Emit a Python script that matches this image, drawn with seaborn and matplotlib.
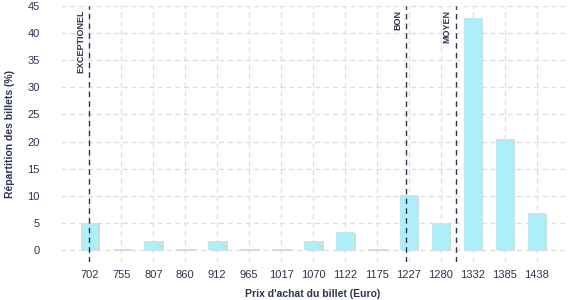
import matplotlib
matplotlib.use("Agg")
import matplotlib.pyplot as plt
import matplotlib.patheffects as pe
import numpy as np
import pandas as pd
import seaborn as sns

prices = [702, 755, 807, 860, 912, 965, 1017, 1070, 1122, 1175, 1227, 1280, 1332, 1385, 1438]
shares = [5.0, 0.2, 1.7, 0.2, 1.7, 0.2, 0.2, 1.7, 3.3, 0.2, 10.1, 5.0, 42.8, 20.5, 6.8]
threshold_labels = ["EXCEPTIONEL", "BON", "MOYEN"]
threshold_prices = [702, 1222, 1304]
y_ticks = [0, 5, 10, 15, 20, 25, 30, 35, 40, 45]

sns.set_theme(style="white")
plt.rcParams["font.family"] = ["Liberation Sans", "DejaVu Sans"]
plt.rcParams["xtick.major.pad"] = 6
plt.rcParams["ytick.major.pad"] = 15
plt.rcParams["xtick.major.size"] = 0
plt.rcParams["ytick.major.size"] = 0

text_color = "#2b3550"
df = pd.DataFrame({"price": [str(p) for p in prices], "share": shares})

fig = plt.figure(figsize=(5.77, 3.0), dpi=100)
ax = fig.add_axes([0.105, 0.127, 0.875, 0.853])

sns.barplot(data=df, x="price", y="share", color="#aeeef8", saturation=1,
            width=0.55, ax=ax, zorder=3)
for p in ax.patches:
    p.set_path_effects([pe.SimplePatchShadow(offset=(1.3, -0.4), shadow_rgbFace="#d9d9d9", alpha=1), pe.Normal()])
    p.set_linewidth(0)

ax.set_ylim(-2.2, 45)
ax.set_xlim(-0.9, len(prices) - 0.1)
ax.set_yticks(y_ticks)
ax.grid(True, color="#dddddd", linestyle=(0, (4, 3)), linewidth=0.9, zorder=0)
ax.set_axisbelow(True)
for s in ax.spines.values():
    s.set_visible(False)
for lbl in ax.get_xticklabels() + ax.get_yticklabels():
    lbl.set_color(text_color)
    lbl.set_fontsize(8)

ax.set_xlabel("Prix d'achat du billet (Euro)", fontsize=7.5, fontweight="bold", color=text_color, labelpad=6)
ax.set_ylabel("Répartition des billets (%)", fontsize=7.5, fontweight="bold", color=text_color, labelpad=9)

idx = np.arange(len(prices))
for lab, tp in zip(threshold_labels, threshold_prices):
    xpos = float(np.interp(tp, prices, idx))
    ax.axvline(xpos, color="#2b3550", linestyle=(0, (4, 3)), linewidth=1.0, zorder=4)
    ax.text(xpos - 0.12, 44.3, lab, rotation=90, ha="right", va="top",
            fontsize=6.5, fontweight="bold", color=text_color, zorder=5)

fig.savefig("out.png", dpi=100)
